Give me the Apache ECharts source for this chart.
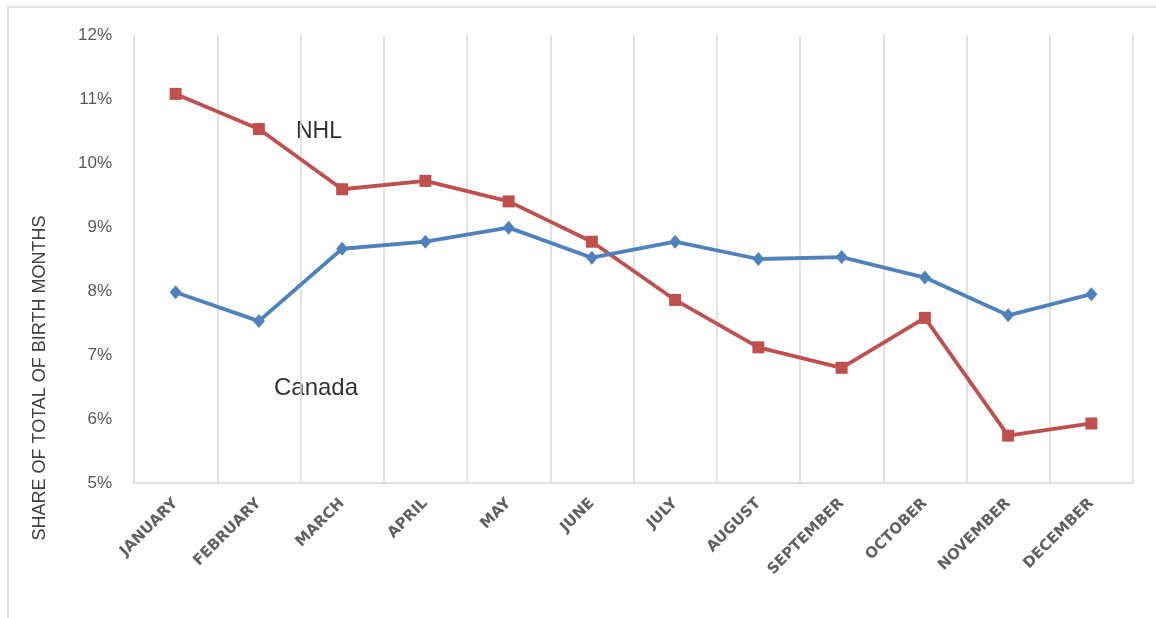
<!DOCTYPE html>
<html>
<head>
<meta charset="utf-8">
<script src="https://cdn.jsdelivr.net/npm/echarts@6/dist/echarts.min.js"></script>
<style>
html,body{margin:0;padding:0;background:#fff;}
#chart{width:1156px;height:618px;}
</style>
</head>
<body>
<div id="chart"></div>
<script>
const months = ['JANUARY','FEBRUARY','MARCH','APRIL','MAY','JUNE','JULY','AUGUST','SEPTEMBER','OCTOBER','NOVEMBER','DECEMBER'];
const nhl = [11.08, 10.53, 9.59, 9.72, 9.40, 8.77, 7.86, 7.12, 6.80, 7.58, 5.74, 5.93];
const canada = [7.98, 7.53, 8.66, 8.77, 8.99, 8.52, 8.77, 8.50, 8.53, 8.21, 7.62, 7.95];
const yTicks = [5, 6, 7, 8, 9, 10, 11, 12];
const yTitle = 'SHARE OF TOTAL OF BIRTH MONTHS';
const seriesNames = ['NHL', 'Canada'];

const chart = echarts.init(document.getElementById('chart'), null, {renderer: 'canvas'});
chart.setOption({
  animation: false,
  backgroundColor: '#ffffff',
  grid: {left: 134, right: 23, top: 35, bottom: 135, containLabel: false},
  xAxis: {
    type: 'category',
    data: months,
    boundaryGap: true,
    axisLine: {show: true, lineStyle: {color: '#D9D9D9', width: 1.5}},
    axisTick: {show: false},
    splitLine: {show: true, lineStyle: {color: '#D9D9D9', width: 1.5}},
    axisLabel: {
      rotate: 45, margin: 18, interval: 0,
      fontFamily: 'DejaVu Sans', fontWeight: 'bold', fontSize: 15, color: '#606060'
    }
  },
  yAxis: {
    type: 'value',
    min: yTicks[0], max: yTicks[yTicks.length - 1], interval: 1,
    axisLine: {show: false},
    axisTick: {show: false},
    splitLine: {show: false},
    axisLabel: {
      margin: 22, fontFamily: 'Liberation Sans', fontSize: 17, color: '#595959',
      formatter: v => v + '%'
    }
  },
  series: [
    {
      name: seriesNames[0], type: 'line', data: nhl,
      symbol: 'rect', symbolSize: 12,
      itemStyle: {color: '#C0504D'},
      lineStyle: {color: '#C0504D', width: 3.8}
    },
    {
      name: seriesNames[1], type: 'line', data: canada,
      symbol: 'diamond', symbolSize: [12, 14],
      itemStyle: {color: '#4F81BD'},
      lineStyle: {color: '#4F81BD', width: 3.8}
    }
  ],
  graphic: [
    {type: 'rect', shape: {x: 8, y: 7, width: 1200, height: 700}, style: {fill: 'none', stroke: '#D9D9D9', lineWidth: 1.5}, silent: true},
    {type: 'text', x: 40, y: 378, rotation: Math.PI / 2,
      style: {text: yTitle, fontFamily: 'Liberation Sans', fontSize: 18, fill: '#404040', align: 'center', verticalAlign: 'middle'}},
    {type: 'text', x: 319, y: 132,
      style: {text: seriesNames[0], fontFamily: 'Liberation Sans', fontSize: 23, fill: '#333333', align: 'center', verticalAlign: 'middle'}},
    {type: 'text', x: 316, y: 388,
      style: {text: seriesNames[1], fontFamily: 'Liberation Sans', fontSize: 24, fill: '#333333', align: 'center', verticalAlign: 'middle'}}
  ]
});
</script>
</body>
</html>
